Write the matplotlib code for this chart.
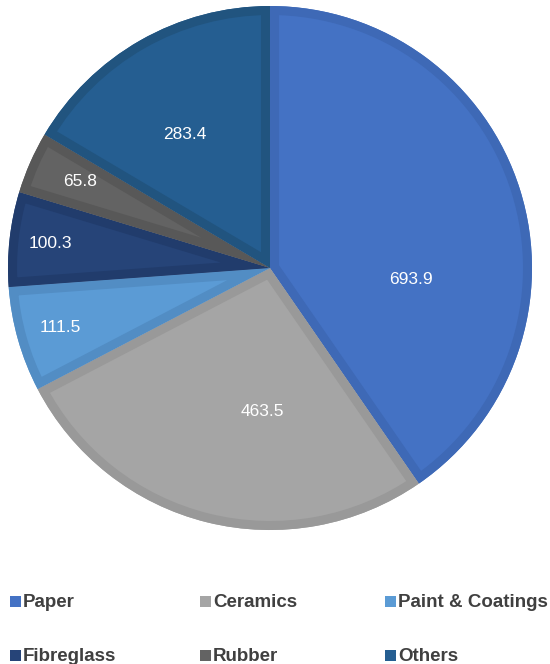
import matplotlib.pyplot as plt
import matplotlib.patches as patches
import numpy as np

categories = ["Paper", "Ceramics", "Paint & Coatings", "Fibreglass", "Rubber", "Others"]
values = [693.9, 463.5, 111.5, 100.3, 65.8, 283.4]

fill_colors = ["#4472C4", "#A5A5A5", "#5B9BD5", "#264478", "#636363", "#255E91"]
bevel_colors = ["#3E69B6", "#999999", "#528DC4", "#213C6C", "#585858", "#21547F"]

# label positions inside the pie (pie radius = 1)
label_xy = [(0.538, -0.042), (-0.031, -0.546), (-0.80, -0.229),
            (-0.84, 0.095), (-0.725, 0.332), (-0.324, 0.508)]

fig = plt.figure(figsize=(5.5, 6.64), dpi=100)
ax = fig.add_axes([8 / 550, 134 / 664, 524 / 550, 524 / 664])

wedges, _ = ax.pie(values, colors=fill_colors, startangle=90, counterclock=False,
                   radius=1, wedgeprops=dict(linewidth=0))
ax.set_xlim(-1, 1)
ax.set_ylim(-1, 1)
ax.set_aspect("equal")
ax.axis("off")

# inner darker rim on each slice, clipped to the slice itself
for w, bc in zip(wedges, bevel_colors):
    rim = patches.Wedge(w.center, w.r, w.theta1, w.theta2, facecolor="none",
                        edgecolor=bc, linewidth=13)
    ax.add_patch(rim)
    rim.set_clip_path(w)

for (x, y), v in zip(label_xy, values):
    ax.text(x, y, f"{v:.1f}", color="white", fontsize=12.5, family="Liberation Sans",
            ha="center", va="center")

# legend, three per row
col_x = [10, 200, 385]
row_base = [607, 661]
for i, (name, c) in enumerate(zip(categories, fill_colors)):
    px = col_x[i % 3]
    py = row_base[i // 3]
    sq = patches.Rectangle((px / 550, 1 - py / 664), 11 / 550, 11 / 664,
                           transform=fig.transFigure, facecolor=c, edgecolor="none")
    fig.add_artist(sq)
    fig.text((px + 13) / 550, 1 - py / 664, name, fontsize=13.5, fontweight="bold",
             color="#404040", family="Liberation Sans", ha="left", va="baseline")

fig.savefig("out.png", dpi=100, facecolor="white")
